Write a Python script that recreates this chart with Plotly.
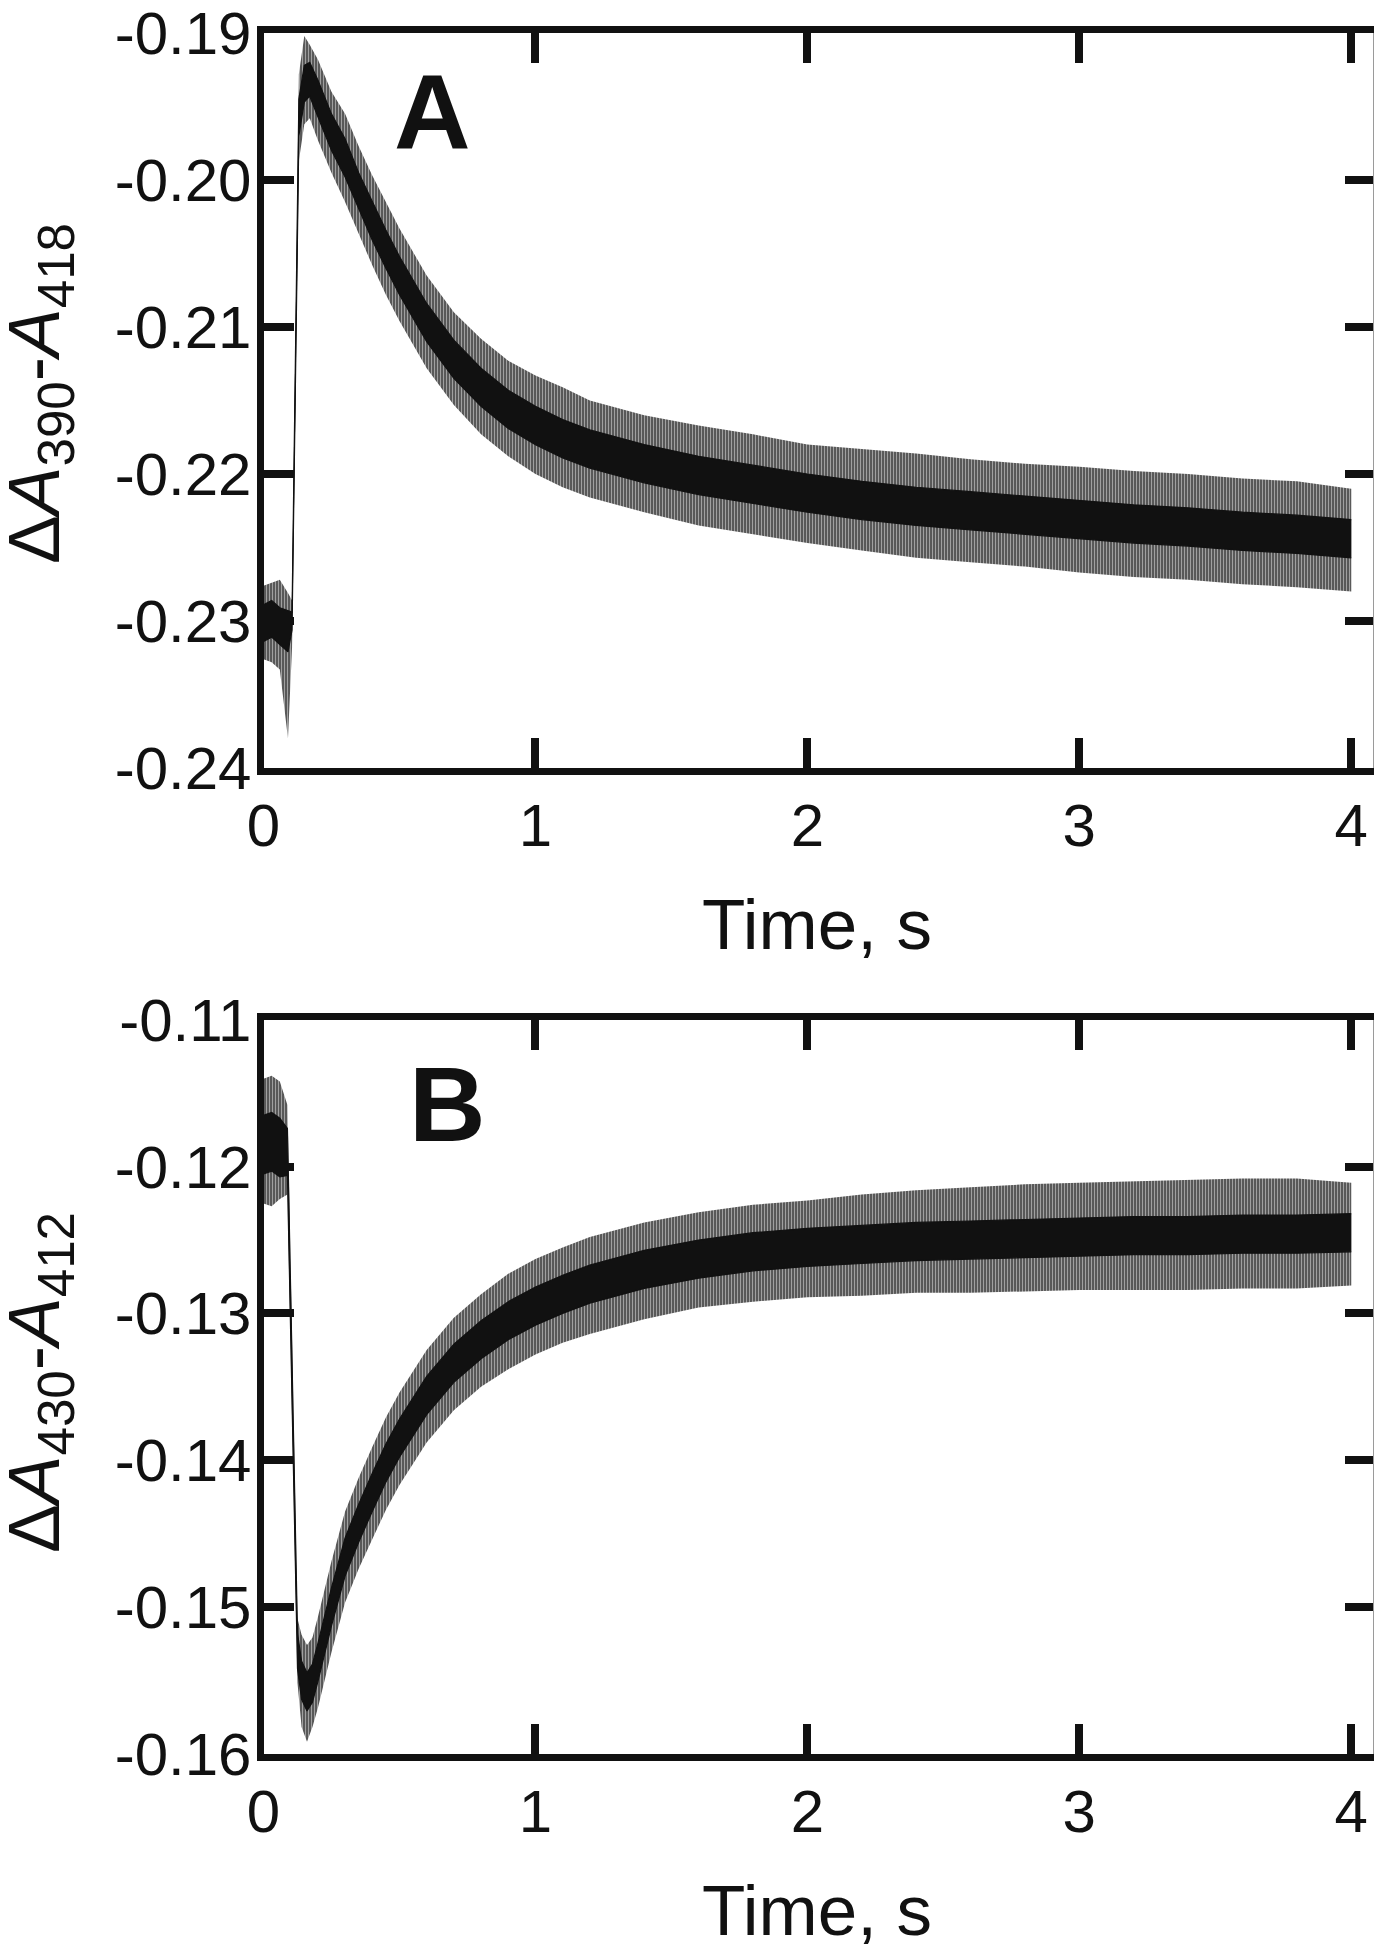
import plotly.graph_objects as go

# ---------------- Data ----------------
# Panel A: time (s) and noise envelopes of dA390-A418
t_A = [0, 0.03, 0.06, 0.09, 0.105, 0.13, 0.15, 0.17, 0.2, 0.25, 0.3, 0.35, 0.4, 0.45, 0.5,
       0.6, 0.7, 0.8, 0.9, 1.0, 1.1, 1.2, 1.4, 1.6, 1.8, 2.0, 2.2, 2.4, 2.6, 2.8, 3.0,
       3.2, 3.4, 3.6, 3.8, 4.0]
coreHi_A = [-0.2289, -0.2286, -0.2291, -0.2293, -0.2294, -0.1945, -0.1922, -0.1920, -0.1932,
            -0.1955, -0.1972, -0.1995, -0.2015, -0.2034, -0.2052, -0.2084, -0.2109, -0.2128,
            -0.2143, -0.2154, -0.2163, -0.2170, -0.2180, -0.2188, -0.2194, -0.2200, -0.2205,
            -0.2209, -0.2212, -0.2215, -0.2218, -0.2221, -0.2223, -0.2226, -0.2228, -0.2231]
coreLo_A = [-0.2314, -0.2311, -0.2316, -0.2321, -0.2306, -0.1970, -0.1947, -0.1943, -0.1957,
            -0.1980, -0.1998, -0.2020, -0.2041, -0.2060, -0.2078, -0.2110, -0.2135, -0.2154,
            -0.2169, -0.2180, -0.2189, -0.2196, -0.2206, -0.2214, -0.2220, -0.2226, -0.2231,
            -0.2235, -0.2238, -0.2241, -0.2244, -0.2247, -0.2249, -0.2252, -0.2254, -0.2257]
outHi_A = [-0.2276, -0.2274, -0.2272, -0.2281, -0.2286, -0.1928, -0.1902, -0.1908, -0.1918,
           -0.1940, -0.1955, -0.1977, -0.1997, -0.2015, -0.2033, -0.2065, -0.2090, -0.2108,
           -0.2123, -0.2133, -0.2141, -0.2150, -0.2160, -0.2167, -0.2173, -0.2180, -0.2183,
           -0.2186, -0.2190, -0.2193, -0.2195, -0.2198, -0.2200, -0.2203, -0.2205, -0.2210]
outLo_A = [-0.2326, -0.2328, -0.2333, -0.2380, -0.2318, -0.1987, -0.1962, -0.1958, -0.1973,
           -0.1995, -0.2015, -0.2037, -0.2058, -0.2078, -0.2096, -0.2128, -0.2153, -0.2173,
           -0.2188, -0.2200, -0.2209, -0.2216, -0.2226, -0.2235, -0.2241, -0.2247, -0.2252,
           -0.2257, -0.2260, -0.2263, -0.2267, -0.2270, -0.2272, -0.2275, -0.2277, -0.2280]

# Panel B: time (s) and noise envelopes of dA430-A412
t_B = [0, 0.03, 0.06, 0.088, 0.125, 0.14, 0.16, 0.18, 0.2, 0.25, 0.3, 0.35, 0.4, 0.45, 0.5,
       0.6, 0.7, 0.8, 0.9, 1.0, 1.1, 1.2, 1.4, 1.6, 1.8, 2.0, 2.2, 2.4, 2.6, 2.8, 3.0,
       3.2, 3.4, 3.6, 3.8, 4.0]
coreHi_B = [-0.1165, -0.1163, -0.1167, -0.1174, -0.1518, -0.1537, -0.1545, -0.1539, -0.1525,
            -0.1487, -0.1453, -0.1430, -0.1409, -0.1389, -0.1372, -0.1343, -0.1321, -0.1305,
            -0.1292, -0.1282, -0.1274, -0.1267, -0.1257, -0.1250, -0.1245, -0.1242, -0.1240,
            -0.1238, -0.1237, -0.1236, -0.1235, -0.1234, -0.1234, -0.1233, -0.1233, -0.1232]
coreLo_B = [-0.1205, -0.1203, -0.1207, -0.1206, -0.1542, -0.1563, -0.1571, -0.1565, -0.1551,
            -0.1513, -0.1479, -0.1456, -0.1435, -0.1415, -0.1398, -0.1369, -0.1347, -0.1331,
            -0.1318, -0.1308, -0.1300, -0.1293, -0.1283, -0.1276, -0.1271, -0.1268, -0.1266,
            -0.1264, -0.1263, -0.1262, -0.1261, -0.1260, -0.1260, -0.1259, -0.1259, -0.1258]
outHi_B = [-0.1140, -0.1138, -0.1142, -0.1158, -0.1508, -0.1519, -0.1526, -0.1521, -0.1507,
           -0.1469, -0.1435, -0.1412, -0.1391, -0.1371, -0.1354, -0.1325, -0.1303, -0.1287,
           -0.1273, -0.1263, -0.1255, -0.1248, -0.1238, -0.1231, -0.1226, -0.1223, -0.1219,
           -0.1216, -0.1214, -0.1212, -0.1211, -0.1210, -0.1209, -0.1208, -0.1208, -0.1211]
outLo_B = [-0.1225, -0.1227, -0.1222, -0.1219, -0.1552, -0.1582, -0.1592, -0.1582, -0.1569,
           -0.1531, -0.1497, -0.1474, -0.1454, -0.1434, -0.1417, -0.1388, -0.1366, -0.1350,
           -0.1338, -0.1328, -0.1320, -0.1314, -0.1304, -0.1296, -0.1292, -0.1289, -0.1288,
           -0.1286, -0.1286, -0.1285, -0.1284, -0.1284, -0.1284, -0.1283, -0.1283, -0.1281]

# Tick values and labels
x_ticks = [0, 1, 2, 3, 4]
x_ticklabels = ["0", "1", "2", "3", "4"]
yA_ticks = [-0.24, -0.23, -0.22, -0.21, -0.20, -0.19]
yA_ticklabels = ["-0.24", "-0.23", "-0.22", "-0.21", "-0.20", "-0.19"]
yB_ticks = [-0.16, -0.15, -0.14, -0.13, -0.12, -0.11]
yB_ticklabels = ["-0.16", "-0.15", "-0.14", "-0.13", "-0.12", "-0.11"]

x_title = "Time, s"
yA_title = "Δ<i>A</i><sub>390</sub>-<i>A</i><sub>418</sub>"
yB_title = "Δ<i>A</i><sub>430</sub>-<i>A</i><sub>412</sub>"

# ---------------- Figure ----------------
FONT = "Liberation Sans, Arial, Helvetica, sans-serif"
OFF = 8                      # default page (body) margin
W, H = 1382 - OFF, 1950 - OFF
INK = "#111111"


def px(x):                   # page x (px) -> paper fraction
    return (x - OFF) / W


def py(y):                   # page y (px, from top) -> paper fraction
    return 1 - (y - OFF) / H


fig = go.Figure()
hatch = dict(shape="|", size=3, solidity=0.6, fgcolor=INK, bgcolor="rgba(0,0,0,0)")


def add_band(t, hi, lo, xa, ya, solid):
    lw = 1.2 if solid else 0
    fig.add_trace(go.Scatter(x=t, y=hi, xaxis=xa, yaxis=ya, mode="lines",
                             line=dict(width=lw, color=INK), showlegend=False,
                             hoverinfo="skip"))
    kw = dict(fillcolor=INK) if solid else dict(fillcolor="rgba(0,0,0,0)", fillpattern=hatch)
    fig.add_trace(go.Scatter(x=t, y=lo, xaxis=xa, yaxis=ya, mode="lines", fill="tonexty",
                             line=dict(width=lw, color=INK), showlegend=False,
                             hoverinfo="skip", **kw))


add_band(t_A, outHi_A, outLo_A, "x", "y", False)
add_band(t_A, coreHi_A, coreLo_A, "x", "y", True)
add_band(t_B, outHi_B, outLo_B, "x2", "y2", False)
add_band(t_B, coreHi_B, coreLo_B, "x2", "y2", True)
# placeholders so the right-hand (thin) frame axes are drawn
fig.add_trace(go.Scatter(x=[None], y=[None], xaxis="x", yaxis="y3", showlegend=False))
fig.add_trace(go.Scatter(x=[None], y=[None], xaxis="x2", yaxis="y4", showlegend=False))

x_dom = [px(263.5), px(1373)]
yA_dom = [py(768), py(33)]
yB_dom = [py(1753.5), py(1020)]

tickfont = dict(family=FONT, size=60, color=INK)
common_x = dict(domain=x_dom, range=[0, 4.08], tickvals=x_ticks, ticktext=x_ticklabels,
                ticks="inside", ticklen=30, tickwidth=8, tickcolor=INK,
                showline=True, linewidth=7, linecolor=INK, mirror="ticks",
                showgrid=False, zeroline=False, tickfont=tickfont, automargin=False,
                ticklabelstandoff=-1, ticklabeloverflow="allow")
common_y = dict(ticks="inside", ticklen=30, tickwidth=8, tickcolor=INK,
                showline=True, linewidth=7, linecolor=INK, mirror=False,
                showgrid=False, zeroline=False, tickfont=tickfont, automargin=False,
                ticklabelstandoff=-7, ticklabeloverflow="allow")
right_y = dict(side="right", ticks="inside", ticklen=28, tickwidth=8, tickcolor=INK,
               showline=True, linewidth=2, linecolor="#9a9a9a", showticklabels=False,
               showgrid=False, zeroline=False, automargin=False)

fig.update_layout(
    template="none",
    width=W, height=H,
    margin=dict(l=0, r=0, t=0, b=0, pad=0, autoexpand=False),
    paper_bgcolor="white", plot_bgcolor="white",
    showlegend=False,
    xaxis=dict(anchor="y", **common_x),
    xaxis2=dict(anchor="y2", **common_x),
    yaxis=dict(anchor="x", domain=yA_dom, range=[-0.24, -0.19], tickvals=yA_ticks,
               ticktext=yA_ticklabels, **common_y),
    yaxis2=dict(anchor="x2", domain=yB_dom, range=[-0.16, -0.11], tickvals=yB_ticks,
                ticktext=yB_ticklabels, **common_y),
    yaxis3=dict(anchor="x", overlaying="y", range=[-0.24, -0.19], tickvals=yA_ticks, **right_y),
    yaxis4=dict(anchor="x2", overlaying="y2", range=[-0.16, -0.11], tickvals=yB_ticks, **right_y),
)

ann_font = dict(family=FONT, color=INK)
annotations = [
    dict(text=x_title, x=px(817), y=py(925), font=dict(size=71, **ann_font)),
    dict(text=x_title, x=px(817), y=py(1910), font=dict(size=71, **ann_font)),
    dict(text=yA_title, x=px(39), y=py(394), textangle=-90, font=dict(size=73, **ann_font)),
    dict(text=yB_title, x=px(39), y=py(1383), textangle=-90, font=dict(size=73, **ann_font)),
    dict(text="<b>A</b>", x=px(432), y=py(112), font=dict(size=106, **ann_font)),
    dict(text="<b>B</b>", x=px(447), y=py(1104), font=dict(size=106, **ann_font)),
]
for a in annotations:
    a.update(xref="paper", yref="paper", xanchor="center", yanchor="middle", showarrow=False)
fig.update_layout(annotations=annotations)

fig.write_html("out.html")
